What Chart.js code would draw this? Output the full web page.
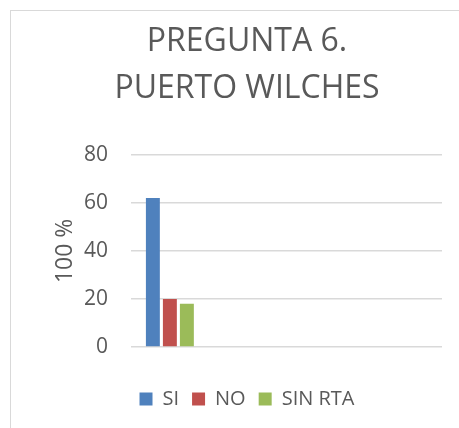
<!DOCTYPE html>
<html>
<head>
<meta charset="utf-8">
<script src="https://cdn.jsdelivr.net/npm/chart.js@4.4.1/dist/chart.umd.min.js"></script>
<style>
  html, body { margin: 0; padding: 0; background: #fff; overflow: hidden; }
  #frame { position: absolute; left: 10px; top: 10px; width: 470px; height: 440px; border: 1px solid #d9d9d9; }
  #c { position: absolute; left: 0; top: 0; }
</style>
</head>
<body>
<div id="frame"></div>
<canvas id="c" width="459" height="428"></canvas>
<script>
// datos del gráfico
const categories = ['', '', '', ''];
const seriesNames = ['SI', 'NO', 'SIN RTA'];
const siValues = [62, null, null, null];
const noValues = [20, null, null, null];
const sinRtaValues = [18, null, null, null];
const yTicks = [0, 20, 40, 60, 80];

const colors = ['#4F81BD', '#C0504D', '#9BBB59'];
const textColor = '#595959';
const fontFamily = "'Open Sans', 'Noto Sans', sans-serif";

const ctx = document.getElementById('c').getContext('2d');
new Chart(ctx, {
  type: 'bar',
  data: {
    labels: categories,
    datasets: [siValues, noValues, sinRtaValues].map((vals, i) => ({
      label: seriesNames[i],
      data: vals,
      backgroundColor: colors[i],
      borderWidth: 0,
      barPercentage: 0.82,
      categoryPercentage: 0.656
    }))
  },
  options: {
    responsive: false,
    animation: false,
    layout: { padding: { left: 52, right: 17, top: 19, bottom: 9 } },
    plugins: {
      title: {
        display: true,
        text: ['PREGUNTA 6.', 'PUERTO WILCHES'],
        color: textColor,
        font: { family: fontFamily, size: 32, weight: 'normal', lineHeight: 1.45 },
        padding: { top: 0, bottom: 43 }
      },
      legend: {
        position: 'bottom',
        labels: {
          color: textColor,
          font: { family: fontFamily, size: 20 },
          boxWidth: 13,
          boxHeight: 13,
          padding: 13
        }
      },
      tooltip: { enabled: false }
    },
    scales: {
      x: {
        ticks: { display: false },
        grid: { display: false },
        border: { display: false },
        afterFit: (axis) => { axis.height = 29; }
      },
      y: {
        min: 0,
        max: 80,
        afterBuildTicks: (axis) => { axis.ticks = yTicks.map(v => ({ value: v })); },
        afterFit: (axis) => { axis.width = 79; },
        ticks: {
          color: textColor,
          font: { family: fontFamily, size: 21 },
          padding: 23
        },
        grid: { color: '#D9D9D9', lineWidth: 1.5, drawTicks: false },
        border: { display: false },
        title: {
          display: true,
          text: '100 %',
          color: textColor,
          font: { family: fontFamily, size: 23 },
          padding: 0
        }
      }
    }
  }
});
</script>
</body>
</html>
